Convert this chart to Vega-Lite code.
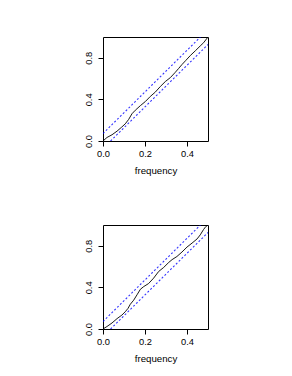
{
  "$schema": "https://vega.github.io/schema/vega-lite/v6.json",
  "padding": {"left": 83, "top": 36, "right": 0, "bottom": 0},
  "spacing": 84,
  "bounds": "flush",
  "config": {
    "font": "Liberation Sans",
    "view": {"stroke": "#000000", "strokeWidth": 1},
    "axis": {
      "grid": false,
      "domain": false,
      "tickColor": "#000000",
      "tickSize": 5,
      "labelFontSize": 9.3,
      "labelColor": "#000000",
      "labelFont": "Liberation Sans",
      "titleFont": "Liberation Sans",
      "titleFontSize": 9.7,
      "titleFontWeight": "normal",
      "titleColor": "#000000",
      "labelOverlap": false,
      "labelFlush": false
    }
  },
  "datasets": {
    "cp": [
      {"panel": 1, "x": 0, "y": 0},
      {"panel": 1, "x": 0.019, "y": 0.034},
      {"panel": 1, "x": 0.043, "y": 0.06},
      {"panel": 1, "x": 0.067, "y": 0.095},
      {"panel": 1, "x": 0.087, "y": 0.13},
      {"panel": 1, "x": 0.106, "y": 0.165},
      {"panel": 1, "x": 0.122, "y": 0.207},
      {"panel": 1, "x": 0.138, "y": 0.262},
      {"panel": 1, "x": 0.154, "y": 0.296},
      {"panel": 1, "x": 0.178, "y": 0.34},
      {"panel": 1, "x": 0.202, "y": 0.38},
      {"panel": 1, "x": 0.225, "y": 0.428},
      {"panel": 1, "x": 0.249, "y": 0.47},
      {"panel": 1, "x": 0.273, "y": 0.524},
      {"panel": 1, "x": 0.297, "y": 0.572},
      {"panel": 1, "x": 0.321, "y": 0.61},
      {"panel": 1, "x": 0.344, "y": 0.66},
      {"panel": 1, "x": 0.36, "y": 0.697},
      {"panel": 1, "x": 0.376, "y": 0.735},
      {"panel": 1, "x": 0.395, "y": 0.776},
      {"panel": 1, "x": 0.416, "y": 0.822},
      {"panel": 1, "x": 0.44, "y": 0.868},
      {"panel": 1, "x": 0.463, "y": 0.914},
      {"panel": 1, "x": 0.479, "y": 0.945},
      {"panel": 1, "x": 0.5, "y": 1.0},
      {"panel": 2, "x": 0, "y": 0},
      {"panel": 2, "x": 0.019, "y": 0.024},
      {"panel": 2, "x": 0.043, "y": 0.058},
      {"panel": 2, "x": 0.067, "y": 0.1},
      {"panel": 2, "x": 0.09, "y": 0.134},
      {"panel": 2, "x": 0.106, "y": 0.166},
      {"panel": 2, "x": 0.119, "y": 0.198},
      {"panel": 2, "x": 0.13, "y": 0.238},
      {"panel": 2, "x": 0.146, "y": 0.277},
      {"panel": 2, "x": 0.162, "y": 0.329},
      {"panel": 2, "x": 0.178, "y": 0.382},
      {"panel": 2, "x": 0.194, "y": 0.408},
      {"panel": 2, "x": 0.217, "y": 0.437},
      {"panel": 2, "x": 0.241, "y": 0.489},
      {"panel": 2, "x": 0.265, "y": 0.553},
      {"panel": 2, "x": 0.289, "y": 0.592},
      {"panel": 2, "x": 0.313, "y": 0.64},
      {"panel": 2, "x": 0.329, "y": 0.667},
      {"panel": 2, "x": 0.352, "y": 0.697},
      {"panel": 2, "x": 0.376, "y": 0.74},
      {"panel": 2, "x": 0.4, "y": 0.788},
      {"panel": 2, "x": 0.424, "y": 0.826},
      {"panel": 2, "x": 0.448, "y": 0.866},
      {"panel": 2, "x": 0.463, "y": 0.905},
      {"panel": 2, "x": 0.479, "y": 0.957},
      {"panel": 2, "x": 0.49, "y": 0.986},
      {"panel": 2, "x": 0.5, "y": 1.0}
    ],
    "bands": [
      {"band": "upper", "x": 0, "y": 0.072},
      {"band": "upper", "x": 0.464, "y": 1.0},
      {"band": "lower", "x": 0.036, "y": 0},
      {"band": "lower", "x": 0.5, "y": 0.928}
    ]
  },
  "vconcat": [
    {
      "width": 105,
      "height": 104,
      "layer": [
        {
          "data": {"name": "bands"},
          "mark": {"type": "line", "color": "#0000ff", "strokeWidth": 1.1, "strokeDash": [2, 2], "opacity": 0.8, "clip": true},
          "encoding": {
            "x": {"field": "x", "type": "quantitative", "scale": {"domain": [0, 0.5], "nice": false, "zero": false}, "axis": {"values": [0, 0.1, 0.2, 0.3, 0.4, 0.5], "labelExpr": "round(datum.value*10)%2==0 ? format(datum.value,'.1f') : ''", "title": "frequency", "labelPadding": 3, "titlePadding": 7}},
            "y": {"field": "y", "type": "quantitative", "scale": {"domain": [0, 1], "nice": false}, "axis": {"values": [0, 0.2, 0.4, 0.6, 0.8, 1.0], "labelExpr": "round(datum.value*5)%2==0 ? format(datum.value,'.1f') : ''", "title": null, "labelAngle": -90, "labelAlign": "center", "labelBaseline": "bottom", "labelPadding": 5}},
            "detail": {"field": "band"}
          }
        },
        {
          "data": {"name": "cp"},
          "transform": [{"filter": "datum.panel == 1"}],
          "mark": {"type": "line", "color": "#000000", "strokeWidth": 0.9, "clip": true},
          "encoding": {
            "x": {"field": "x", "type": "quantitative"},
            "y": {"field": "y", "type": "quantitative"}
          }
        }
      ]
    },
    {
      "width": 105,
      "height": 104,
      "layer": [
        {
          "data": {"name": "bands"},
          "mark": {"type": "line", "color": "#0000ff", "strokeWidth": 1.1, "strokeDash": [2, 2], "opacity": 0.8, "clip": true},
          "encoding": {
            "x": {"field": "x", "type": "quantitative", "scale": {"domain": [0, 0.5], "nice": false, "zero": false}, "axis": {"values": [0, 0.1, 0.2, 0.3, 0.4, 0.5], "labelExpr": "round(datum.value*10)%2==0 ? format(datum.value,'.1f') : ''", "title": "frequency", "labelPadding": 3, "titlePadding": 7}},
            "y": {"field": "y", "type": "quantitative", "scale": {"domain": [0, 1], "nice": false}, "axis": {"values": [0, 0.2, 0.4, 0.6, 0.8, 1.0], "labelExpr": "round(datum.value*5)%2==0 ? format(datum.value,'.1f') : ''", "title": null, "labelAngle": -90, "labelAlign": "center", "labelBaseline": "bottom", "labelPadding": 5}},
            "detail": {"field": "band"}
          }
        },
        {
          "data": {"name": "cp"},
          "transform": [{"filter": "datum.panel == 2"}],
          "mark": {"type": "line", "color": "#000000", "strokeWidth": 0.9, "clip": true},
          "encoding": {
            "x": {"field": "x", "type": "quantitative"},
            "y": {"field": "y", "type": "quantitative"}
          }
        }
      ]
    }
  ]
}
